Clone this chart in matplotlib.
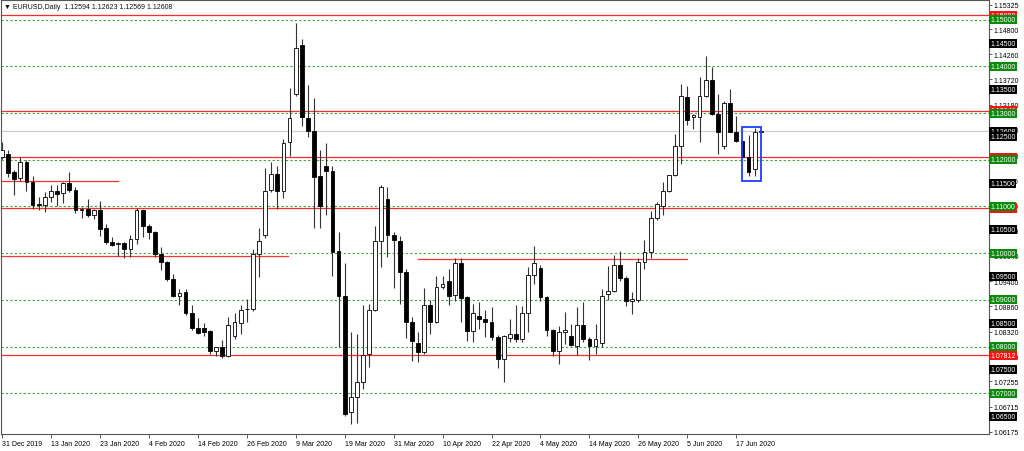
import matplotlib
matplotlib.use("Agg")
import matplotlib.pyplot as plt
from matplotlib.patches import Rectangle

plt.rcParams['font.family'] = ['Liberation Sans', 'DejaVu Sans']

# daily EURUSD bars, 31 Dec 2019 .. 23 Jun 2020
opens = [1.1205, 1.1213, 1.1173, 1.1160, 1.1196, 1.1153, 1.1105, 1.1104, 1.1120, 1.1133,
         1.1128, 1.1150, 1.1136, 1.1092, 1.1094, 1.1082, 1.1093, 1.1055, 1.1025, 1.1019,
         1.1021, 1.1008, 1.1030, 1.1093, 1.1059, 1.1045, 1.0998, 1.0981, 1.0944, 1.0908,
         1.0916, 1.0872, 1.0839, 1.0840, 1.0833, 1.0790, 1.0800, 1.0779, 1.0822, 1.0850,
         1.0880, 1.0881, 1.0998, 1.1040, 1.1135, 1.1170, 1.1134, 1.1238, 1.1341, 1.1446,
         1.1289, 1.1262, 1.1166, 1.1187, 1.1177, 1.1004, 1.0909, 1.0659, 1.0692, 1.0724,
         1.0784, 1.0878, 1.1027, 1.1116, 1.1040, 1.1027, 1.0960, 1.0853, 1.0807, 1.0789,
         1.0889, 1.0853, 1.0927, 1.0941, 1.0910, 1.0979, 1.0906, 1.0834, 1.0866, 1.0859,
         1.0853, 1.0821, 1.0773, 1.0818, 1.0827, 1.0817, 1.0872, 1.0953, 1.0968, 1.0906,
         1.0836, 1.0791, 1.0832, 1.0823, 1.0802, 1.0846, 1.0816, 1.0802, 1.0808, 1.0913,
         1.0918, 1.0975, 1.0946, 1.0898, 1.0900, 1.0981, 1.1002, 1.1075, 1.1100, 1.1134,
         1.1167, 1.1230, 1.1334, 1.1291, 1.1291, 1.1337, 1.1371, 1.1298, 1.1230, 1.1322,
         1.1260, 1.1241, 1.1205, 1.1180, 1.12594]
highs = [1.1239, 1.1222, 1.1178, 1.1205, 1.1199, 1.1165, 1.1121, 1.1130, 1.1145, 1.1145,
         1.1152, 1.1173, 1.1142, 1.1099, 1.1116, 1.1095, 1.1111, 1.1063, 1.1035, 1.1025,
         1.1023, 1.1038, 1.1096, 1.1095, 1.1063, 1.1048, 1.1013, 1.0983, 1.0955, 1.0923,
         1.0924, 1.0888, 1.0862, 1.0850, 1.0835, 1.0800, 1.0815, 1.0863, 1.0872, 1.0889,
         1.0902, 1.1009, 1.1053, 1.1182, 1.1195, 1.1186, 1.1245, 1.1353, 1.1494, 1.1459,
         1.1360, 1.1332, 1.1221, 1.1235, 1.1187, 1.1045, 1.0980, 1.0831, 1.0827, 1.0888,
         1.0891, 1.1059, 1.1145, 1.1141, 1.1045, 1.1037, 1.0966, 1.0863, 1.0832, 1.0925,
         1.0900, 1.0951, 1.0952, 1.0966, 1.0989, 1.0990, 1.0908, 1.0891, 1.0895, 1.0879,
         1.0884, 1.0825, 1.0825, 1.0859, 1.0888, 1.0886, 1.0970, 1.1016, 1.0974, 1.0908,
         1.0837, 1.0845, 1.0873, 1.0848, 1.0884, 1.0895, 1.0821, 1.0848, 1.0923, 1.0972,
         1.0996, 1.1005, 1.0951, 1.0916, 1.0990, 1.1029, 1.1091, 1.1110, 1.1153, 1.1168,
         1.1255, 1.1362, 1.1359, 1.1298, 1.1377, 1.1422, 1.1398, 1.1341, 1.1325, 1.1352,
         1.1294, 1.1243, 1.1253, 1.1268, 1.12623]
lows = [1.1202, 1.1164, 1.1125, 1.1155, 1.1134, 1.1094, 1.1092, 1.1088, 1.1109, 1.1102,
        1.1107, 1.1130, 1.1086, 1.1075, 1.1078, 1.1073, 1.1036, 1.1019, 1.1015, 1.0995,
        1.0990, 1.0992, 1.1019, 1.1034, 1.1030, 1.0992, 1.0963, 1.0941, 1.0906, 1.0890,
        1.0868, 1.0835, 1.0827, 1.0822, 1.0784, 1.0780, 1.0776, 1.0778, 1.0816, 1.0827,
        1.0852, 1.0877, 1.0948, 1.1033, 1.1130, 1.1095, 1.1118, 1.1209, 1.1337, 1.1273,
        1.1248, 1.1053, 1.1053, 1.1082, 1.0952, 1.0799, 1.0652, 1.0634, 1.0636, 1.0709,
        1.0757, 1.0877, 1.0970, 1.0991, 1.0925, 1.0892, 1.0818, 1.0770, 1.0766, 1.0785,
        1.0827, 1.0850, 1.0923, 1.0889, 1.0898, 1.0853, 1.0813, 1.0809, 1.0838, 1.0820,
        1.0815, 1.0754, 1.0724, 1.0809, 1.0809, 1.0810, 1.0831, 1.0934, 1.0898, 1.0823,
        1.0779, 1.0763, 1.0806, 1.0802, 1.0782, 1.0809, 1.0772, 1.0784, 1.0799, 1.0899,
        1.0916, 1.0941, 1.0887, 1.0870, 1.0895, 1.0966, 1.0989, 1.1072, 1.1082, 1.1132,
        1.1166, 1.1191, 1.1275, 1.1266, 1.1239, 1.1335, 1.1296, 1.1212, 1.1224, 1.1259,
        1.1239, 1.1203, 1.1166, 1.1166, 1.12569]
closes = [1.1222, 1.1172, 1.1158, 1.1196, 1.1153, 1.1104, 1.1103, 1.1120, 1.1133, 1.1126,
          1.1150, 1.1136, 1.1092, 1.1094, 1.1082, 1.1093, 1.1052, 1.1025, 1.1017, 1.1022,
          1.1008, 1.1030, 1.1093, 1.1058, 1.1045, 1.0998, 1.0981, 1.0944, 1.0908, 1.0915,
          1.0872, 1.0839, 1.0830, 1.0832, 1.0790, 1.0800, 1.0779, 1.0846, 1.0852, 1.0879,
          1.0881, 1.0998, 1.1027, 1.1133, 1.1170, 1.1133, 1.1235, 1.1289, 1.1439, 1.1291,
          1.1262, 1.1164, 1.1100, 1.1175, 1.1002, 1.0909, 1.0656, 1.0693, 1.0724, 1.0783,
          1.0878, 1.1027, 1.1142, 1.1039, 1.1029, 1.0960, 1.0853, 1.0811, 1.0789, 1.0889,
          1.0853, 1.0927, 1.0934, 1.0909, 1.0979, 1.0903, 1.0834, 1.0872, 1.0858, 1.0853,
          1.0821, 1.0773, 1.0823, 1.0827, 1.0817, 1.0872, 1.0953, 1.0978, 1.0906, 1.0836,
          1.0791, 1.0831, 1.0836, 1.0804, 1.0846, 1.0816, 1.0802, 1.0816, 1.0909, 1.0920,
          1.0975, 1.0946, 1.0898, 1.0901, 1.0981, 1.1002, 1.1075, 1.1105, 1.1134, 1.1168,
          1.1230, 1.1336, 1.1286, 1.1295, 1.1337, 1.1371, 1.1298, 1.1260, 1.1322, 1.1260,
          1.1241, 1.1205, 1.1174, 1.1259, 1.12608]

date_labels = ["31 Dec 2019", "13 Jan 2020", "23 Jan 2020", "4 Feb 2020", "14 Feb 2020",
               "26 Feb 2020", "9 Mar 2020", "19 Mar 2020", "31 Mar 2020", "10 Apr 2020",
               "22 Apr 2020", "4 May 2020", "14 May 2020", "26 May 2020", "5 Jun 2020",
               "17 Jun 2020"]
label_every = 8

price_ticks = [1.15325, 1.14800, 1.14260, 1.13720, 1.13180, 1.12640, 1.12100, 1.11560,
               1.11020, 1.10480, 1.09940, 1.09400, 1.08860, 1.08320, 1.07780, 1.07255,
               1.06715, 1.06175]
green_levels = [1.15, 1.14, 1.13, 1.12, 1.11, 1.10, 1.09, 1.08, 1.07]
black_levels = [1.145, 1.135, 1.125, 1.115, 1.105, 1.095, 1.085, 1.075, 1.065]
red_levels = [1.15098, 1.13046, 1.12054, 1.10968, 1.07812]
# short red segments: price, first bar, last bar
red_segments = [(1.11540, 0, 19.0), (1.09950, -0.3, 46.7), (1.09876, 68.0, 111.9)]
box_prices = (1.11552, 1.12696)
box_bars = (121, 124)
bid = 1.12608

fig = plt.figure(figsize=(10.24, 4.52), dpi=100)
ax = fig.add_axes([1 / 1024, 17 / 452, 988 / 1024, 434 / 452])

n = len(opens)
xs = list(range(n))

# levels
for p in green_levels:
    ax.axhline(p, color='#3aa63a', lw=0.8, ls=(0, (2, 2)), zorder=1)
for p in red_levels:
    ax.axhline(p, color='#ff2a2a', lw=0.9, zorder=1)
for p, a, b in red_segments:
    ax.plot([a, b], [p, p], color='#ff3030', lw=0.9, zorder=1)
ax.axhline(bid, color='#cfcfcf', lw=0.9, zorder=1)

# candles
ax.vlines(xs, lows, highs, color='#333333', lw=0.8, zorder=2)
bottoms = [min(o, c) for o, c in zip(opens, closes)]
heights = [abs(c - o) for o, c in zip(opens, closes)]
faces = ['white' if c >= o else 'black' for o, c in zip(opens, closes)]
ax.bar(xs, heights, bottom=bottoms, width=0.62, color=faces, edgecolor='black',
       linewidth=0.6, zorder=3)

ax.add_patch(Rectangle((box_bars[0], box_prices[0]), box_bars[1] - box_bars[0],
                       box_prices[1] - box_prices[0], fill=False, ec='#1f3dff',
                       lw=1.3, zorder=4))

ax.set_xlim(-0.16, 161.3)
ax.set_ylim(1.06128, 1.15422)

ax.set_xticks(list(range(0, len(date_labels) * label_every, label_every)))
ax.set_xticklabels(date_labels, ha='left')
ax.tick_params(axis='x', length=3, width=0.6, pad=1.5, labelsize=5, color='#444444')

ax.yaxis.tick_right()
ax.set_yticks(price_ticks)
ax.set_yticklabels(['%.5f' % v for v in price_ticks])
ax.tick_params(axis='y', length=2, width=0.6, pad=1.0, labelsize=5, color='#444444')

for s in ax.spines.values():
    s.set_color('#555555')
    s.set_linewidth(0.8)

ytr = ax.get_yaxis_transform()


def price_label(p, fc, z):
    ax.text(1.0015, p, '%.5f' % p, transform=ytr, ha='left', va='center', fontsize=5,
            color='white', zorder=z, clip_on=False,
            bbox=dict(boxstyle='square,pad=0.15', fc=fc, ec='none'))


for p in red_levels:
    price_label(p, '#ff1010', 5)
price_label(bid, 'black', 6)
for p in black_levels:
    price_label(p, 'black', 7)
for p in green_levels:
    price_label(p, '#0b8a0b', 8)

ax.text(0.003, 0.985, '\u25bc EURUSD,Daily  1.12594 1.12623 1.12569 1.12608',
        transform=ax.transAxes, ha='left', va='center', fontsize=5, color='#111111')
ax.text(431, 1.13835, 'Tlap.com', ha='center', va='center', fontsize=7,
        family=['DejaVu Sans'], color='#333333')

fig.savefig('out.png', dpi=100)
